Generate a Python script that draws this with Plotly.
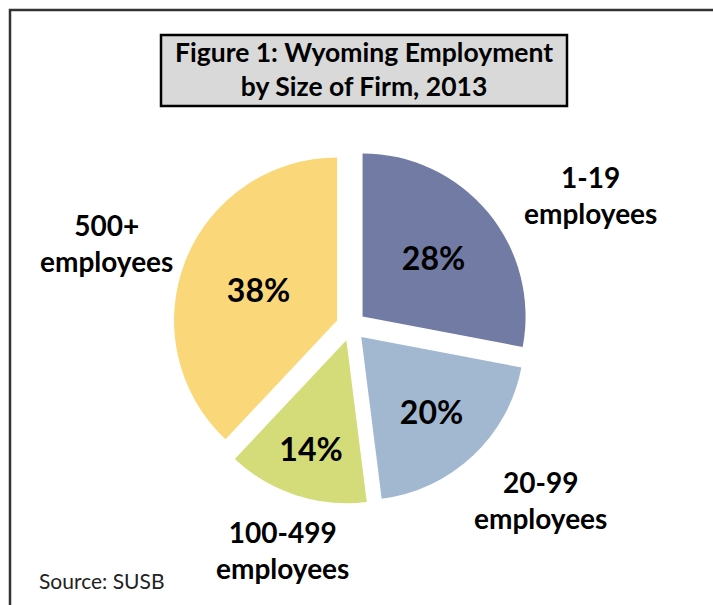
import plotly.graph_objects as go

# Wyoming employment by size of firm, 2013 (share of employment, %)
categories = ["1-19<br>employees", "20-99<br>employees", "100-499<br>employees", "500+<br>employees"]
shares = [28, 20, 14, 38]
colors = ["#717BA3", "#A2B8D0", "#D4DC7A", "#FAD87A"]

# where each category name sits (pixels from top-left)
label_pos = [(590, 195), (540, 500), (282, 550), (106, 243)]

W, H = 713, 605
font = "Lato, 'Open Sans', sans-serif"

fig = go.Figure(
    go.Pie(
        labels=categories,
        values=shares,
        sort=False,
        direction="clockwise",
        rotation=0,
        pull=[0.092] * len(shares),
        marker=dict(colors=colors, line=dict(width=0)),
        texttemplate="%{value}%",
        textposition="inside",
        insidetextorientation="horizontal",
        textfont=dict(family=font, size=32, color="black", weight="bold"),
        domain=dict(x=[173 / W, 529 / W], y=[1 - 504 / H, 1 - 148 / H]),
        hoverinfo="label+percent",
        showlegend=False,
    )
)


def note(text, x, y, size, bold=True, xanchor="center", color="black"):
    return dict(
        text=text,
        x=x / W,
        y=1 - y / H,
        xref="paper",
        yref="paper",
        xanchor=xanchor,
        yanchor="middle",
        showarrow=False,
        align="center",
        font=dict(family=font, size=size, color=color,
                  weight="bold" if bold else "normal"),
    )


annotations = [note(lab, px_, py_, 28) for lab, (px_, py_) in zip(categories, label_pos)]
annotations.append(note("Figure 1: Wyoming Employment<br>by Size of Firm, 2013", 364, 69, 26.5))
annotations.append(note("Source: SUSB", 37, 580, 21, bold=False, xanchor="left", color="#222222"))

shapes = [
    # outer frame (runs off the right and bottom edges)
    dict(type="rect", xref="paper", yref="paper",
         x0=10 / W, x1=1.05, y0=-0.05, y1=1 - 10 / H,
         line=dict(color="#333333", width=2.5)),
    # title box
    dict(type="rect", xref="paper", yref="paper",
         x0=161 / W, x1=567 / W, y0=1 - 106 / H, y1=1 - 35 / H,
         fillcolor="#D9D9D9", line=dict(color="black", width=2.5), layer="below"),
]

fig.update_layout(
    width=W,
    height=H,
    margin=dict(l=0, r=0, t=0, b=0),
    paper_bgcolor="white",
    plot_bgcolor="white",
    annotations=annotations,
    shapes=shapes,
)

# drop the browser's default 8px body margin so the figure fills the window
fig.write_html(
    "out.html",
    config={"displayModeBar": False},
    post_script="document.body.style.margin='0';",
)
